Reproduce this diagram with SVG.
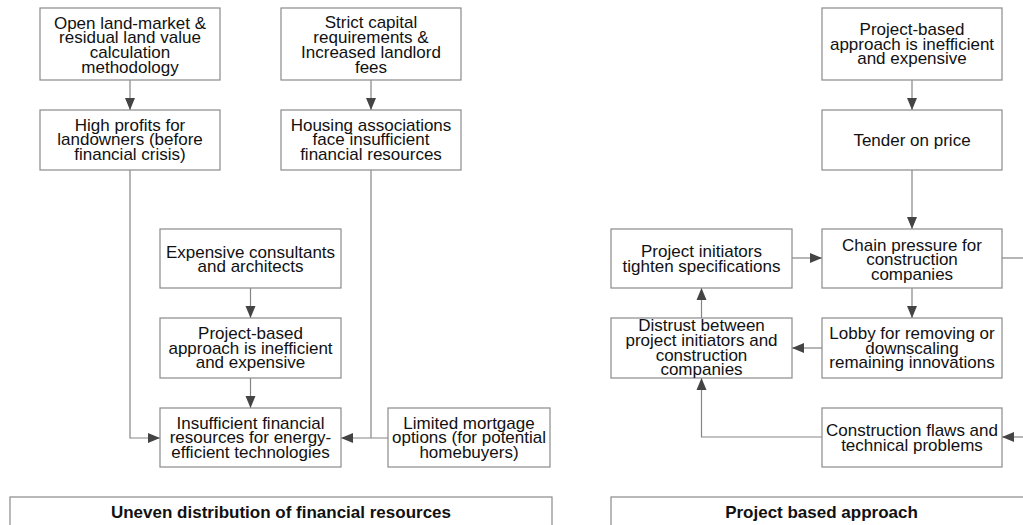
<svg xmlns="http://www.w3.org/2000/svg" width="1023" height="525" viewBox="0 0 1023 525">
  <style>
    .box { fill: #ffffff; stroke: #8a8a8a; stroke-width: 1.2; }
    .lbl { font-family: "Liberation Sans", Arial, Helvetica, sans-serif; font-size: 17px; fill: #111111; text-anchor: middle; }
    .ttl { font-family: "Liberation Sans", Arial, Helvetica, sans-serif; font-size: 17px; font-weight: bold; fill: #111111; text-anchor: middle; }
    .conn { fill: none; stroke: #858585; stroke-width: 1.2; }
  </style>
  <defs>
    <marker id="arrow" markerUnits="userSpaceOnUse" markerWidth="12" markerHeight="11" refX="12" refY="5.5" orient="auto">
      <path d="M0,0.5 L12,5.5 L0,10.5 z" fill="#444444"/>
    </marker>
  </defs>
  <rect width="1023" height="525" fill="#ffffff"/>

  <!-- connectors -->
  <g id="connectors">
    <!-- left panel -->
    <path class="conn" d="M130,80 V110" marker-end="url(#arrow)"/>
    <path class="conn" d="M371,80 V110" marker-end="url(#arrow)"/>
    <path class="conn" d="M250.5,288 V318" marker-end="url(#arrow)"/>
    <path class="conn" d="M250.5,378 V408" marker-end="url(#arrow)"/>
    <path class="conn" d="M130,170 V438 H160" marker-end="url(#arrow)"/>
    <path class="conn" d="M371,170 V438"/>
    <path class="conn" d="M388,438 H341" marker-end="url(#arrow)"/>
    <!-- right panel -->
    <path class="conn" d="M912,80 V110" marker-end="url(#arrow)"/>
    <path class="conn" d="M912,170 V229" marker-end="url(#arrow)"/>
    <path class="conn" d="M912,288 V318" marker-end="url(#arrow)"/>
    <path class="conn" d="M1002,258 H1023"/>
    <path class="conn" d="M792,258 H822" marker-end="url(#arrow)"/>
    <path class="conn" d="M822,348 H792" marker-end="url(#arrow)"/>
    <path class="conn" d="M701.5,318 V288" marker-end="url(#arrow)"/>
    <path class="conn" d="M822,437 H701.5 V378" marker-end="url(#arrow)"/>
    <path class="conn" d="M1023,437 H1002" marker-end="url(#arrow)"/>
  </g>

  <!-- left panel nodes -->
  <g id="open-land-market">
    <rect class="box" x="40" y="8" width="180" height="72"/>
    <text class="lbl" y="28.5"><tspan x="130">Open land-market &amp;</tspan><tspan x="130" dy="14.7">residual land value</tspan><tspan x="130" dy="14.7">calculation</tspan><tspan x="130" dy="14.7">methodology</tspan></text>
  </g>
  <g id="high-profits">
    <rect class="box" x="40" y="110" width="180" height="60"/>
    <text class="lbl" y="130.5"><tspan x="130">High profits for</tspan><tspan x="130" dy="14.5">landowners (before</tspan><tspan x="130" dy="14.5">financial crisis)</tspan></text>
  </g>
  <g id="strict-capital">
    <rect class="box" x="281" y="8" width="180" height="72"/>
    <text class="lbl" y="28"><tspan x="371">Strict capital</tspan><tspan x="371" dy="14.9">requirements &amp;</tspan><tspan x="371" dy="14.7">Increased landlord</tspan><tspan x="371" dy="14.9">fees</tspan></text>
  </g>
  <g id="housing-associations">
    <rect class="box" x="281" y="110" width="180" height="60"/>
    <text class="lbl" y="130.5"><tspan x="371">Housing associations</tspan><tspan x="371" dy="14.5">face insufficient</tspan><tspan x="371" dy="14.5">financial resources</tspan></text>
  </g>
  <g id="expensive-consultants">
    <rect class="box" x="160" y="229" width="181" height="59"/>
    <text class="lbl" y="257.5"><tspan x="250.5">Expensive consultants</tspan><tspan x="250.5" dy="14.5">and architects</tspan></text>
  </g>
  <g id="project-based-left">
    <rect class="box" x="160" y="318" width="181" height="60"/>
    <text class="lbl" y="339"><tspan x="250.5">Project-based</tspan><tspan x="250.5" dy="14.5">approach is inefficient</tspan><tspan x="250.5" dy="14.5">and expensive</tspan></text>
  </g>
  <g id="insufficient-resources">
    <rect class="box" x="160" y="408" width="181" height="59"/>
    <text class="lbl" y="428.5"><tspan x="250.5">Insufficient financial</tspan><tspan x="250.5" dy="14.5">resources for energy-</tspan><tspan x="250.5" dy="14.5">efficient technologies</tspan></text>
  </g>
  <g id="limited-mortgage">
    <rect class="box" x="388" y="408" width="162" height="59"/>
    <text class="lbl" y="428.5"><tspan x="469">Limited mortgage</tspan><tspan x="469" dy="14.5">options (for potential</tspan><tspan x="469" dy="14.5">homebuyers)</tspan></text>
  </g>
  <g id="uneven-distribution">
    <rect class="box" x="10" y="497" width="542" height="40"/>
    <text class="ttl" x="281" y="517.5">Uneven distribution of financial resources</text>
  </g>

  <!-- right panel nodes -->
  <g id="project-based-right">
    <rect class="box" x="822" y="8" width="180" height="72"/>
    <text class="lbl" y="35"><tspan x="912">Project-based</tspan><tspan x="912" dy="14.5">approach is inefficient</tspan><tspan x="912" dy="14.5">and expensive</tspan></text>
  </g>
  <g id="tender-on-price">
    <rect class="box" x="822" y="110" width="180" height="60"/>
    <text class="lbl" x="912" y="146">Tender on price</text>
  </g>
  <g id="chain-pressure">
    <rect class="box" x="822" y="229" width="180" height="59"/>
    <text class="lbl" y="250.5"><tspan x="912">Chain pressure for</tspan><tspan x="912" dy="14.5">construction</tspan><tspan x="912" dy="14.5">companies</tspan></text>
  </g>
  <g id="lobby">
    <rect class="box" x="822" y="318" width="180" height="60"/>
    <text class="lbl" y="339"><tspan x="912">Lobby for removing or</tspan><tspan x="912" dy="14.5">downscaling</tspan><tspan x="912" dy="14.5">remaining innovations</tspan></text>
  </g>
  <g id="construction-flaws">
    <rect class="box" x="822" y="408" width="180" height="59"/>
    <text class="lbl" y="436"><tspan x="912">Construction flaws and</tspan><tspan x="912" dy="14.5">technical problems</tspan></text>
  </g>
  <g id="tighten-specifications">
    <rect class="box" x="611" y="229" width="181" height="59"/>
    <text class="lbl" y="257"><tspan x="701.5">Project initiators</tspan><tspan x="701.5" dy="14.5">tighten specifications</tspan></text>
  </g>
  <g id="distrust">
    <rect class="box" x="611" y="318" width="181" height="60"/>
    <text class="lbl" y="331"><tspan x="701.5">Distrust between</tspan><tspan x="701.5" dy="15">project initiators and</tspan><tspan x="701.5" dy="14.5">construction</tspan><tspan x="701.5" dy="14.5">companies</tspan></text>
  </g>
  <g id="project-based-approach">
    <rect class="box" x="611" y="497" width="430" height="40"/>
    <text class="ttl" x="821.5" y="517.5">Project based approach</text>
  </g>
</svg>
